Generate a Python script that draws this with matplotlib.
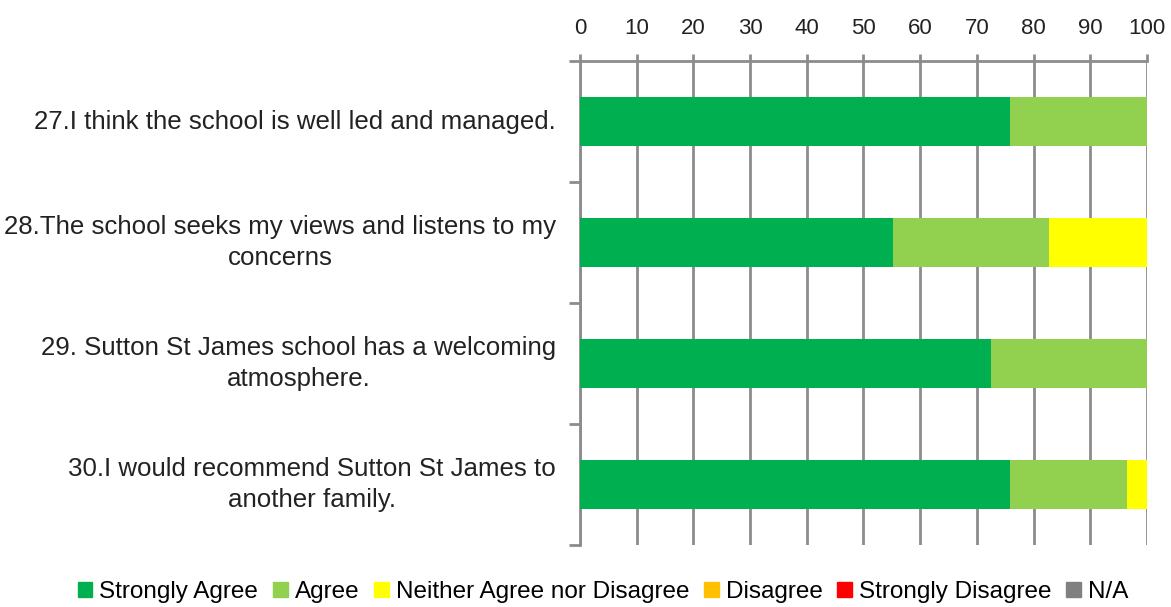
import matplotlib.pyplot as plt
from matplotlib.patches import Patch

questions = [
    '27.I think the school is well led and managed.',
    '28.The school seeks my views and listens to my\nconcerns',
    '29. Sutton St James school has a welcoming\natmosphere.',
    '30.I would recommend Sutton St James to\nanother family.',
]
categories = ['Strongly Agree', 'Agree', 'Neither Agree nor Disagree',
              'Disagree', 'Strongly Disagree', 'N/A']
colors = ['#00b050', '#92d050', '#ffff00', '#ffc000', '#ff0000', '#808080']

strongly_agree = [75.86, 55.17, 72.41, 75.86]
agree = [24.14, 27.59, 27.59, 20.69]
neither = [0, 17.24, 0, 3.45]
disagree = [0, 0, 0, 0]
strongly_disagree = [0, 0, 0, 0]
not_applicable = [0, 0, 0, 0]
series = [strongly_agree, agree, neither, disagree, strongly_disagree, not_applicable]

plt.rcParams['font.family'] = ['Liberation Sans', 'DejaVu Sans']

fig = plt.figure(figsize=(11.71, 6.07), dpi=100)
ax = fig.add_axes([0.4953, 0.1021, 0.4842, 0.7974])

pos = list(range(len(questions)))
left = [0] * len(questions)
for vals, color in zip(series, colors):
    ax.barh(pos, vals, left=left, height=0.4, color=color, zorder=3)
    left = [a + b for a, b in zip(left, vals)]

ax.set_xlim(0, 100)
ax.set_ylim(len(questions) - 0.5, -0.5)
ax.xaxis.tick_top()
ax.set_xticks(range(0, 101, 10))
ax.tick_params(axis='x', length=5, width=2, color='#8c8c8c', labelsize=16,
               pad=11, labelcolor='#222222')
ax.grid(axis='x', color='#8c8c8c', linewidth=2, zorder=1)

ax.set_yticks([p - 0.5 for p in pos] + [len(questions) - 0.5])
ax.set_yticklabels([])
ax.tick_params(axis='y', length=8, width=2, color='#8c8c8c')
for p, q in zip(pos, questions):
    ax.text(-4.2, p, q, ha='right', va='center', multialignment='center',
            fontsize=18.6, linespacing=1.4, color='#222222')

for side in ['right', 'bottom']:
    ax.spines[side].set_visible(False)
for side in ['top', 'left']:
    ax.spines[side].set_color('#8c8c8c')
    ax.spines[side].set_linewidth(2)

handles = [Patch(color=c, label=l) for c, l in zip(colors, categories)]
fig.legend(handles=handles, loc='center', bbox_to_anchor=(0.515, 0.025), ncol=6,
           frameon=False, handlelength=0.6, handleheight=0.6,
           handletextpad=0.3, columnspacing=0.6,
           prop={'family': ['Liberation Sans', 'DejaVu Sans'], 'size': 17.5})

fig.savefig('out.png', dpi=100)
